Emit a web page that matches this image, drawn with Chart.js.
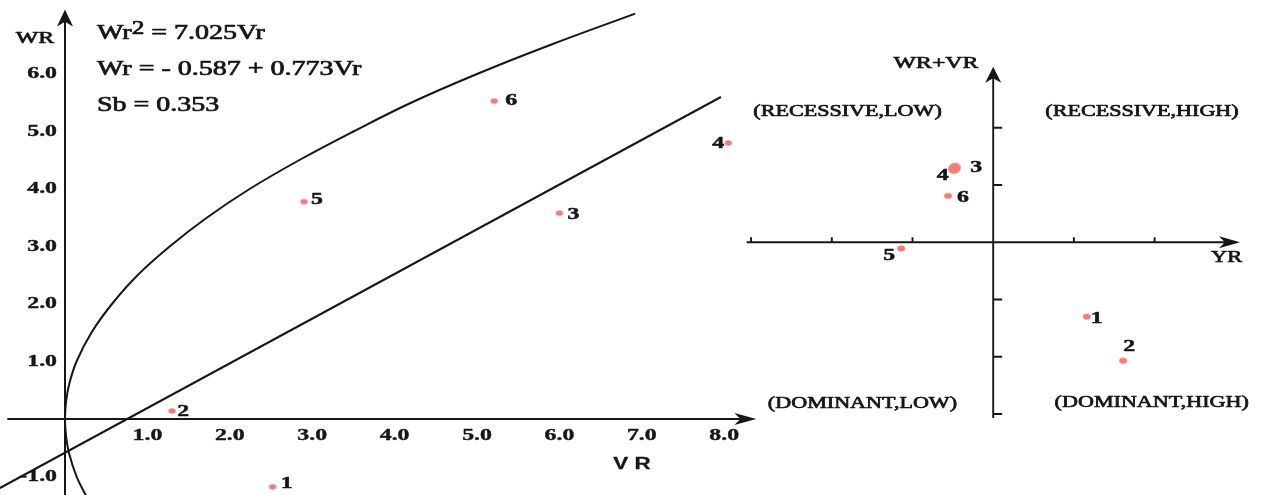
<!DOCTYPE html>
<html>
<head>
<meta charset="utf-8">
<script src="https://cdn.jsdelivr.net/npm/chart.js@4.4.1/dist/chart.umd.min.js"></script>
<style>
  html, body { margin: 0; padding: 0; background: #fff; overflow: hidden; }
  #wrap { position: relative; width: 1272px; height: 495px; }
  canvas { position: absolute; top: 0; }
  #left { left: 0; }
  #right { left: 740px; }
</style>
</head>
<body>
<div id="wrap">
  <canvas id="left" width="770" height="495"></canvas>
  <canvas id="right" width="532" height="495"></canvas>
</div>
<script>
// genotype numbers
const genotypes = ['1', '2', '3', '4', '5', '6'];

// left graph: Vr - Wr
const vrValues = [2.52, 1.30, 6.00, 8.05, 2.90, 5.21];
const wrValues = [-1.18, 0.14, 3.58, 4.80, 3.78, 5.53];

// limiting parabola (Wr^2 = 7.025Vr)
const parabolaWr = [-1.35, -1.0, -0.6, -0.3, 0, 0.3, 0.6, 1.0, 1.5, 2.0, 2.5, 3.0, 3.5, 4.0, 4.5, 5.0, 5.5, 6.0, 6.5, 7.05];
const parabolaVr = [0.26, 0.14, 0.05, 0.013, 0, 0.013, 0.05, 0.14, 0.32, 0.57, 0.88, 1.27, 1.72, 2.24, 2.84, 3.50, 4.20, 5.00, 5.88, 6.92];

// regression line ends
const regVr = [-0.79, 7.96];
const regWr = [-1.20, 5.60];

const vrTickValues = [1, 2, 3, 4, 5, 6, 7, 8];
const vrTickLabels = ['1.0', '2.0', '3.0', '4.0', '5.0', '6.0', '7.0', '8.0'];
const wrTickValues = [6, 5, 4, 3, 2, 1, -1];
const wrTickLabels = ['6.0', '5.0', '4.0', '3.0', '2.0', '1.0', '-1.0'];
const equations = ['Wr', '2', ' = 7.025Vr', 'Wr = - 0.587 + 0.773Vr', 'Sb = 0.353'];

// right graph: YR against WR+VR
const yrValues = [1.16, 1.61, -0.47, -0.49, -1.14, -0.56];
const sumValues = [-1.30, -2.07, 1.30, 1.28, -0.11, 0.81];
const yrTicks = [-3, -2, -1, 1, 2];
const sumTicks = [2, 1, -1, -2, -3];
const quadrants = ['(RECESSIVE,LOW)', '(RECESSIVE,HIGH)', '(DOMINANT,LOW)', '(DOMINANT,HIGH)'];

const INK = '#161616';
const DOT = '#ef7d79';
const SX = 1.4; // the scan is stretched sideways
const SERIF = '"Liberation Serif", "DejaVu Serif", serif';

function dot(rx, ry) {
  const c = document.createElement('canvas');
  c.width = Math.ceil(rx * 2) + 2;
  c.height = Math.ceil(ry * 2) + 2;
  const g = c.getContext('2d');
  g.fillStyle = DOT;
  g.beginPath();
  g.ellipse(c.width / 2, c.height / 2, rx, ry, 0, 0, Math.PI * 2);
  g.fill();
  return c;
}
const smallDot = dot(3.7, 2.8);
const rightDot = dot(3.9, 3.1);
const bigDot = dot(5.7, 5.1);

// ink a bit heavier than the font, like the scan
function text(ctx, str, x, y, font, align, sx, ink) {
  sx = sx || SX;
  ink = ink === undefined ? 0.7 : ink;
  ctx.save();
  ctx.font = font;
  const w = ctx.measureText(str).width * sx;
  let left = x;
  if (align === 'center') left = x - w / 2;
  else if (align === 'right') left = x - w;
  ctx.translate(left, y);
  ctx.scale(sx, 1);
  ctx.textAlign = 'left';
  ctx.textBaseline = 'middle';
  ctx.fillStyle = INK;
  ctx.fillText(str, 0, 0);
  if (ink > 0) {
    ctx.strokeStyle = INK;
    ctx.lineWidth = ink;
    ctx.lineJoin = 'round';
    ctx.strokeText(str, 0, 0);
  }
  ctx.restore();
  return w;
}

function arrow(ctx, tx, ty, dx, dy, len, half) {
  const bx = tx - dx * len, by = ty - dy * len;
  const nx = -dy, ny = dx;
  ctx.beginPath();
  ctx.moveTo(tx, ty);
  ctx.lineTo(bx + nx * half, by + ny * half);
  ctx.lineTo(tx - dx * len * 0.72, ty - dy * len * 0.72);
  ctx.lineTo(bx - nx * half, by - ny * half);
  ctx.closePath();
  ctx.fill();
}

function labelPoints(chart, idx, offsets) {
  const meta = chart.getDatasetMeta(idx);
  meta.data.forEach((p, i) => {
    const o = offsets[i];
    text(chart.ctx, genotypes[i], p.x + o[0], p.y + o[1], 'bold 17px ' + SERIF, 'center', SX, 0.5);
  });
}

const leftDecor = {
  id: 'leftDecor',
  beforeDatasetsDraw(chart) {
    const { ctx, scales: { x, y } } = chart;
    const x0 = x.getPixelForValue(0), y0 = y.getPixelForValue(0);
    ctx.save();
    ctx.strokeStyle = INK;
    ctx.fillStyle = INK;
    ctx.lineWidth = 2;
    ctx.beginPath();
    ctx.moveTo(x.getPixelForValue(-0.70), y0);
    ctx.lineTo(x.getPixelForValue(8.2), y0);
    ctx.moveTo(x0, y.getPixelForValue(-1.40));
    ctx.lineTo(x0, y.getPixelForValue(6.95));
    ctx.stroke();
    arrow(ctx, x.getPixelForValue(8.39), y0, 1, 0, 22, 6);
    arrow(ctx, x0, y.getPixelForValue(7.12), 0, -1, 17, 8);
    ctx.restore();

    vrTickValues.forEach((v, i) => {
      text(ctx, vrTickLabels[i], x.getPixelForValue(v), y0 + 17, 'bold 17px ' + SERIF, 'center', SX, 0.4);
    });
    wrTickValues.forEach((v, i) => {
      text(ctx, wrTickLabels[i], x0 - 8, y.getPixelForValue(v), 'bold 17px ' + SERIF, 'right', SX, 0.4);
    });
    text(ctx, 'WR', 35, 39, '17px ' + SERIF, 'center');
    text(ctx, 'V R', x.getPixelForValue(6.88), 465, 'bold 16px "Liberation Sans", Arial, sans-serif', 'center', SX, 0.3);

    const f = '20px ' + SERIF;
    let w = text(ctx, equations[0], 97, 34, f, 'left');
    w += text(ctx, equations[1], 97 + w, 29, '18px ' + SERIF, 'left');
    text(ctx, equations[2], 97 + w, 34, f, 'left');
    text(ctx, equations[3], 97, 70, f, 'left');
    text(ctx, equations[4], 97, 106, f, 'left');
  },
  afterDatasetsDraw(chart) {
    labelPoints(chart, 0, [[14, -3], [11, 1], [14, 1], [-10, 1], [13, -2], [17, 0]]);
  }
};

const rightDecor = {
  id: 'rightDecor',
  beforeDatasetsDraw(chart) {
    const { ctx, scales: { x, y } } = chart;
    const x0 = x.getPixelForValue(0), y0 = y.getPixelForValue(0);
    ctx.save();
    ctx.strokeStyle = INK;
    ctx.fillStyle = INK;
    ctx.lineWidth = 1.9;
    ctx.beginPath();
    ctx.moveTo(x.getPixelForValue(-3.055), y0);
    ctx.lineTo(x.getPixelForValue(2.9), y0);
    ctx.moveTo(x0, y.getPixelForValue(-3.07));
    ctx.lineTo(x0, y.getPixelForValue(2.9));
    yrTicks.forEach(v => {
      const px = x.getPixelForValue(v);
      ctx.moveTo(px, y0);
      ctx.lineTo(px, y0 - 5);
    });
    sumTicks.forEach(v => {
      const py = y.getPixelForValue(v);
      ctx.moveTo(x0, py);
      ctx.lineTo(x0 + 9, py);
    });
    ctx.stroke();
    arrow(ctx, x.getPixelForValue(3.058), y0, 1, 0, 21, 6);
    arrow(ctx, x0, y.getPixelForValue(3.065), 0, -1, 16, 8);
    ctx.restore();

    const qf = '17px ' + SERIF;
    const spots = [[-1.805, 2.279], [1.844, 2.279], [-1.62, -2.813], [1.964, -2.808]];
    quadrants.forEach((q, i) => {
      text(ctx, q, x.getPixelForValue(spots[i][0]), y.getPixelForValue(spots[i][1]), qf, 'center', 1.3);
    });
    text(ctx, 'WR+VR', x.getPixelForValue(-0.709), y.getPixelForValue(3.124), '17px ' + SERIF, 'center');
    text(ctx, 'YR', x.getPixelForValue(2.893), y.getPixelForValue(-0.281), '16px ' + SERIF, 'center');
  },
  afterDatasetsDraw(chart) {
    labelPoints(chart, 0, [[10, 2], [6, -14], [21, 0], [-11, 7], [-12, 7], [15, 2]]);
  }
};

const baseOptions = (xmin, xmax, ymin, ymax) => ({
  responsive: false,
  animation: false,
  devicePixelRatio: 1,
  layout: { padding: 0, autoPadding: false },
  plugins: { legend: { display: false }, tooltip: { enabled: false } },
  scales: {
    x: { type: 'linear', display: false, min: xmin, max: xmax },
    y: { type: 'linear', display: false, min: ymin, max: ymax }
  }
});

new Chart(document.getElementById('left'), {
  type: 'scatter',
  data: {
    datasets: [
      {
        label: 'Genotypes',
        data: vrValues.map((v, i) => ({ x: v, y: wrValues[i] })),
        pointStyle: smallDot,
        pointRadius: 3
      },
      {
        label: 'Regression',
        data: regVr.map((v, i) => ({ x: v, y: regWr[i] })),
        showLine: true,
        borderColor: INK,
        borderWidth: 2,
        pointRadius: 0
      },
      {
        label: 'Parabola',
        data: parabolaVr.map((v, i) => ({ x: v, y: parabolaWr[i] })),
        showLine: true,
        tension: 0.4,
        borderColor: INK,
        borderWidth: 2,
        pointRadius: 0
      }
    ]
  },
  options: baseOptions(-65 / 82.4, 705 / 82.4, -76 / 57.5, 419 / 57.5),
  plugins: [leftDecor]
});

new Chart(document.getElementById('right'), {
  type: 'scatter',
  data: {
    datasets: [{
      label: 'Genotypes',
      data: yrValues.map((v, i) => ({ x: v, y: sumValues[i] })),
      pointStyle: ctx => (ctx.dataIndex === 2 || ctx.dataIndex === 3) ? bigDot : rightDot,
      pointRadius: 3
    }]
  },
  options: baseOptions(-253.2 / 80.7, 278.8 / 80.7, -252.8 / 57.26, 242.2 / 57.26),
  plugins: [rightDecor]
});
</script>
</body>
</html>
